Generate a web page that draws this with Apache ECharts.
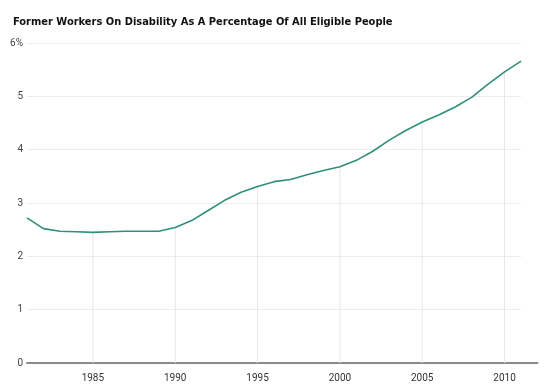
<!DOCTYPE html>
<html>
<head>
<meta charset="utf-8">
<script src="https://cdn.jsdelivr.net/npm/echarts@6/dist/echarts.min.js"></script>
<style>
html,body{margin:0;padding:0;background:#fff;}
#chart{width:550px;height:391px;}
</style>
</head>
<body>
<div id="chart"></div>
<script>
var titleText = 'Former Workers On Disability As A Percentage Of All Eligible People';
var years = [1981,1982,1983,1984,1985,1986,1987,1988,1989,1990,1991,1992,1993,1994,1995,1996,1997,1998,1999,2000,2001,2002,2003,2004,2005,2006,2007,2008,2009,2010,2011,2012];
var values = [2.72,2.52,2.47,2.46,2.45,2.46,2.47,2.47,2.47,2.54,2.67,2.86,3.05,3.20,3.31,3.40,3.44,3.53,3.61,3.68,3.80,3.97,4.18,4.36,4.52,4.65,4.80,4.98,5.23,5.46,5.66];
var yTicks = [0,1,2,3,4,5,6];
var yTickLabels = ['0','1','2','3','4','5','6%'];
var labelYears = [1985,1990,1995,2000,2005,2010];

var cats = years.map(String);
var dropValues = years.map(function(y,i){ return labelYears.indexOf(y) >= 0 ? values[i] : '-'; });
var gridLines = yTicks.filter(function(v){return v>0;}).map(function(v){
  return [{coord:[String(years[0]), v]},{coord:[String(years[values.length-1]), v]}];
});
var titleFont = '"DejaVu Sans Condensed", Roboto, "Liberation Sans", Arial, sans-serif';
var font = 'Roboto, "Liberation Sans", Arial, sans-serif';

var chart = echarts.init(document.getElementById('chart'), null, {renderer:'canvas'});
chart.setOption({
  animation:false,
  backgroundColor:'#ffffff',
  title:{
    text:titleText, left:8, top:12,
    textStyle:{fontFamily:titleFont, fontSize:11, fontWeight:'bold', color:'#111'}
  },
  grid:{left:27, right:12.5, top:43, bottom:28, containLabel:false},
  xAxis:{
    type:'category', data:cats, boundaryGap:false,
    axisLine:{show:true, lineStyle:{color:'#8a8a8a', width:2}},
    axisTick:{show:false},
    splitLine:{show:false},
    axisLabel:{
      margin:10, color:'#333', fontFamily:font, fontSize:10,
      interval:function(i, v){ return labelYears.indexOf(Number(v)) >= 0; }
    }
  },
  yAxis:{
    type:'value', min:0, max:6, interval:1,
    axisLine:{show:false}, axisTick:{show:false},
    splitLine:{show:false},
    axisLabel:{
      margin:4, color:'#444', fontFamily:font, fontSize:10,
      formatter:function(v){ var k = yTicks.indexOf(v); return k>=0 ? yTickLabels[k] : ''; }
    }
  },
  series:[
    {
      type:'bar', data:dropValues, barWidth:1, z:1, silent:true,
      itemStyle:{color:'#e6e6e6'},
      markLine:{
        silent:true, z:1, symbol:['none','none'], label:{show:false},
        lineStyle:{color:'#ececec', width:1, type:'solid'},
        data:gridLines
      }
    },
    {
      type:'line', data:values, z:3, symbol:'none', smooth:false,
      lineStyle:{color:'#2f8f78', width:1.6}
    }
  ]
});
</script>
</body>
</html>
